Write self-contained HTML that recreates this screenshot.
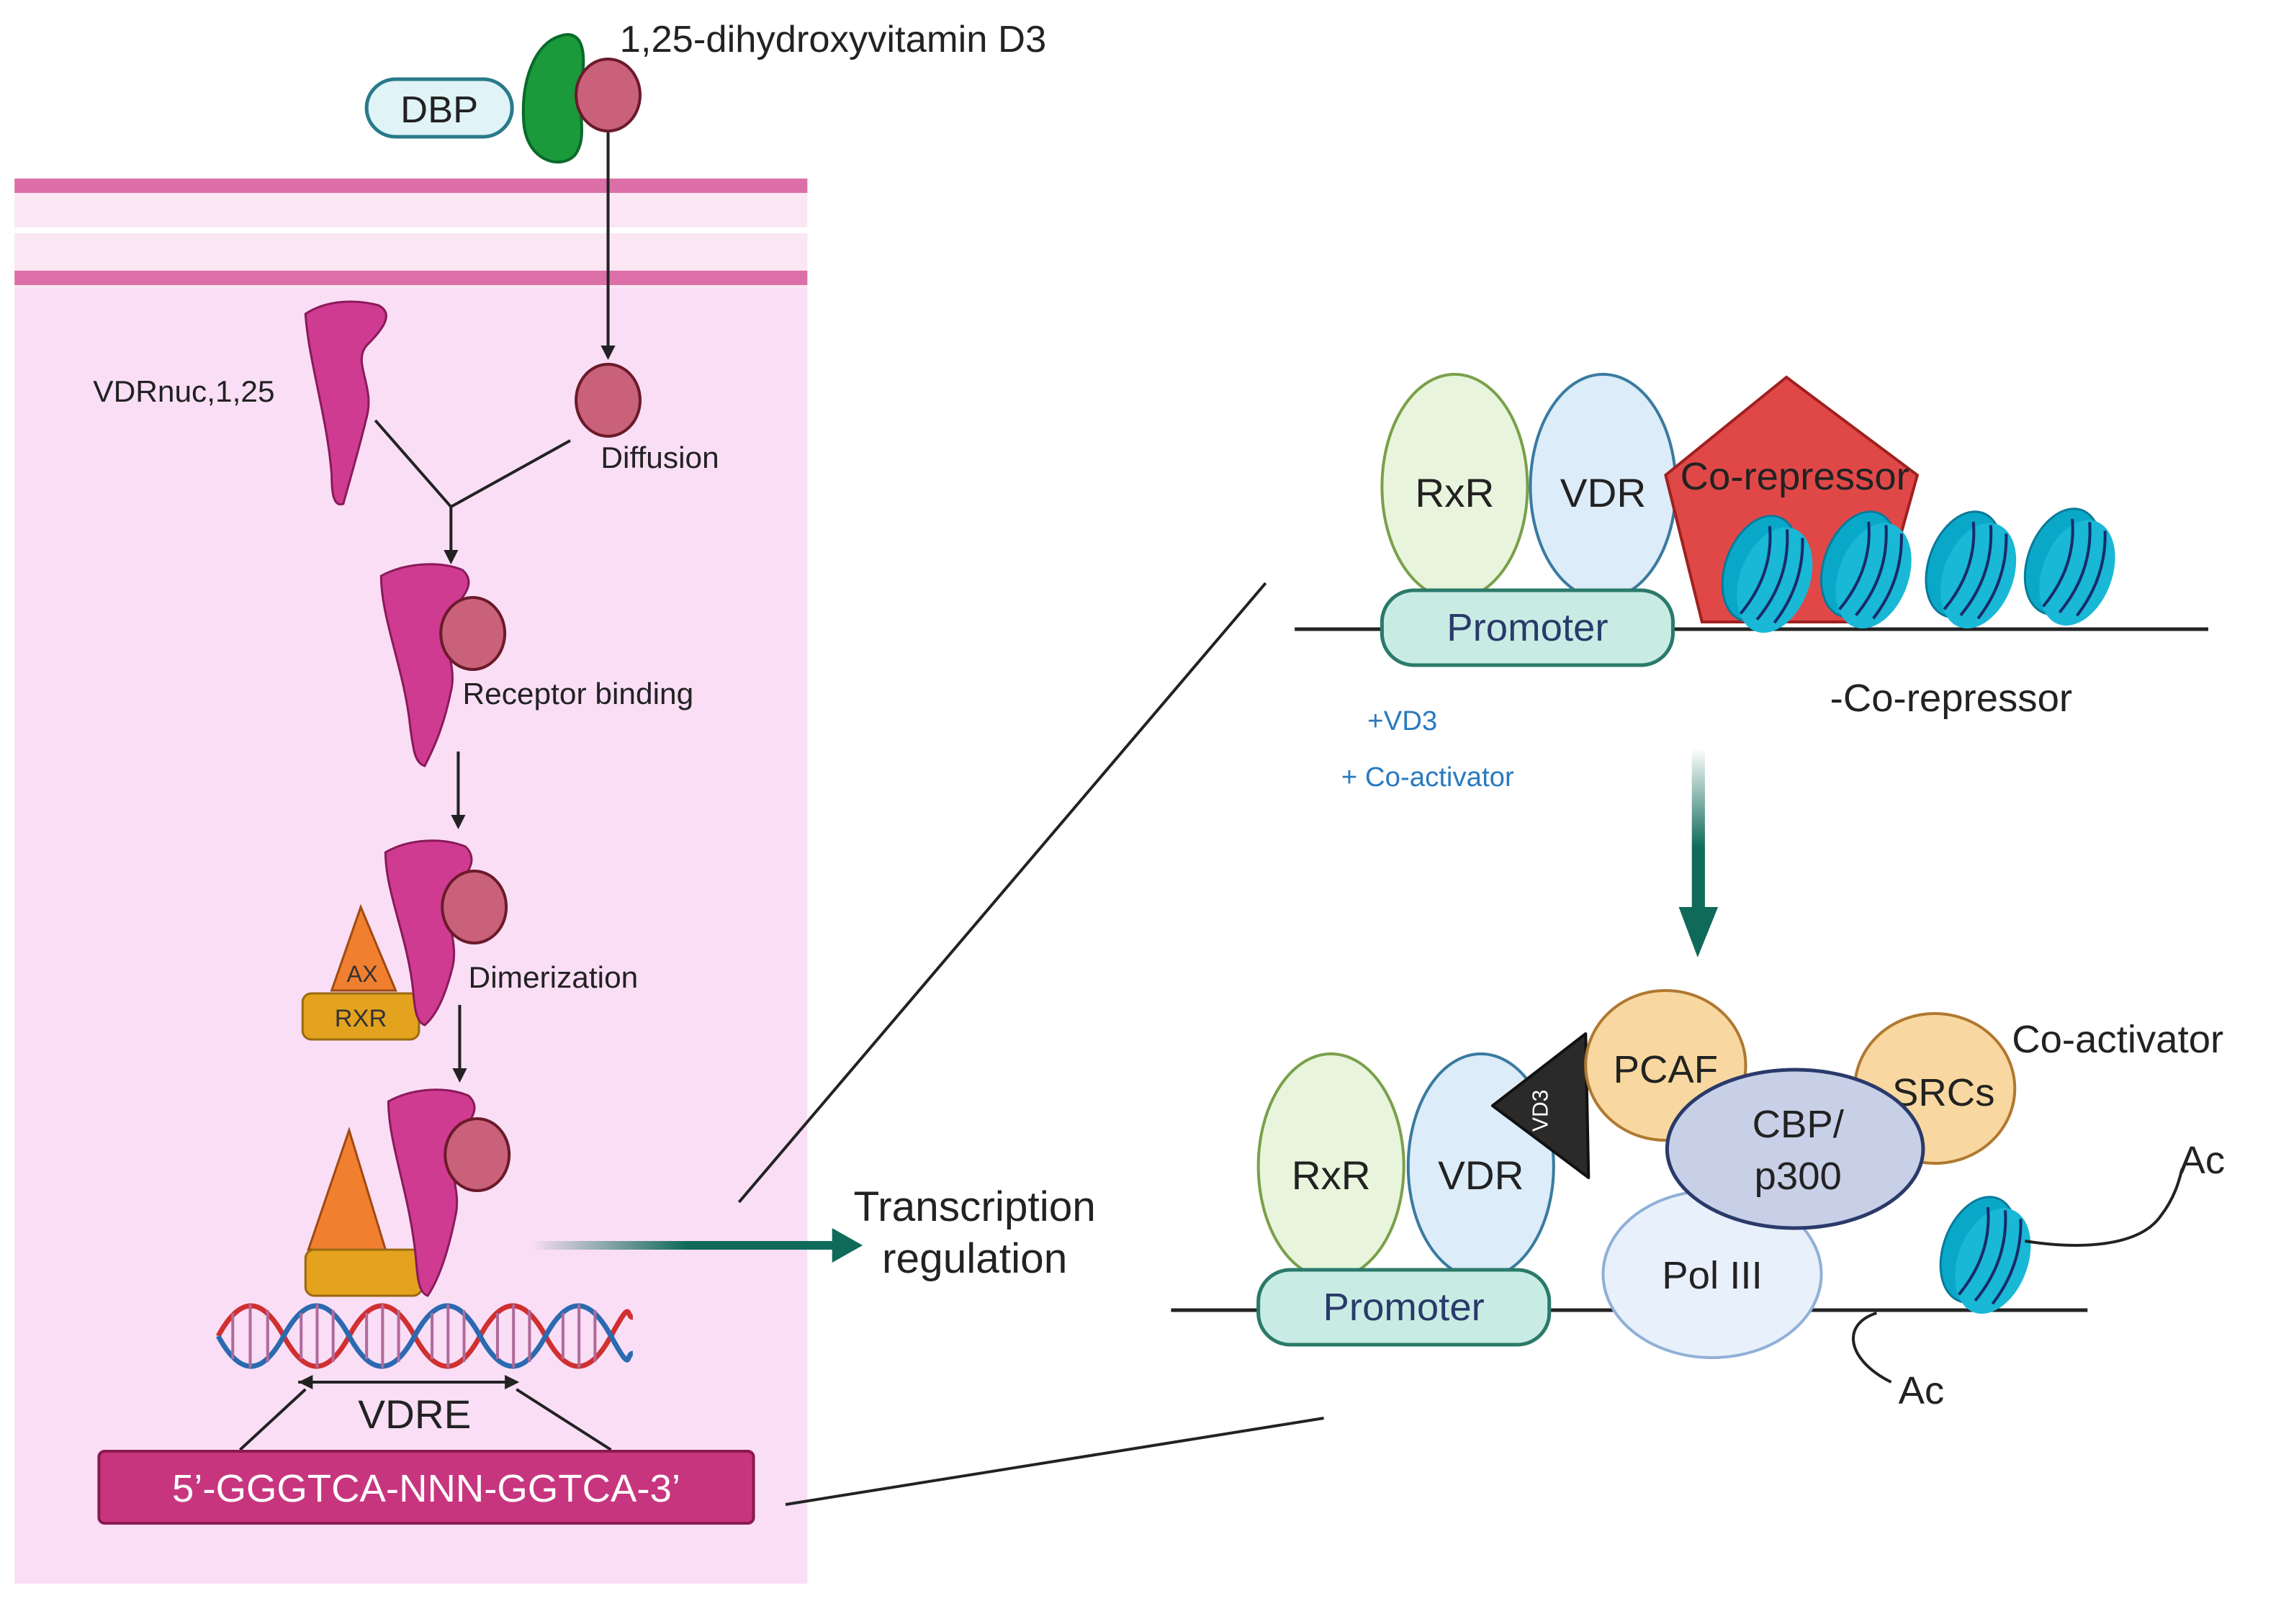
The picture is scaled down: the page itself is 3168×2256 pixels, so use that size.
<!DOCTYPE html>
<html><head><meta charset="utf-8"><style>
html,body{margin:0;padding:0;background:#fff}
svg{display:block}
text{font-family:"Liberation Sans",sans-serif}
</style></head><body>
<svg width="3168" height="2256" viewBox="0 0 1568 1128" preserveAspectRatio="none" xmlns="http://www.w3.org/2000/svg">
<defs>
<marker id="ah" markerWidth="10" markerHeight="10" refX="8" refY="5" orient="auto" markerUnits="userSpaceOnUse"><path d="M0,0 L10,5 L0,10 z" fill="#222"/></marker>
<linearGradient id="gh" x1="0" x2="1" y1="0" y2="0"><stop offset="0" stop-color="#0f6a5a" stop-opacity="0"/><stop offset="0.5" stop-color="#0f6a5a"/><stop offset="1" stop-color="#0f6a5a"/></linearGradient>
<linearGradient id="gv" x1="0" x2="0" y1="0" y2="1"><stop offset="0" stop-color="#0f6a5a" stop-opacity="0"/><stop offset="0.6" stop-color="#0f6a5a"/><stop offset="1" stop-color="#0f6a5a"/></linearGradient>
<g id="nuc"><ellipse cx="0" cy="0" rx="24" ry="38" fill="#0aa8c8" stroke="#0a7a9a" stroke-width="1.5"/><ellipse cx="12" cy="4" rx="24" ry="38" fill="#18b8d6"/><path d="M-4,-30 Q10,0 -2,34 M8,-32 Q22,0 10,34 M20,-30 Q32,0 22,32" stroke="#1a2a6a" stroke-width="2" fill="none"/></g>
</defs>
<rect x="10" y="195" width="545" height="905" fill="#f9def6"/>
<rect x="10" y="124" width="545" height="76" fill="#fbe6f3"/>
<rect x="10" y="124" width="545" height="10" fill="#dd6fa8"/>
<rect x="10" y="188" width="545" height="10" fill="#dd6fa8"/>
<rect x="10" y="158" width="545" height="4" fill="#fff"/>
<rect x="252" y="55" width="100" height="40" rx="20" fill="#e0f3f6" stroke="#2a7a8a" stroke-width="2.5"/>
<text x="302" y="85" font-size="26" text-anchor="middle" fill="#222">DBP</text>
<path d="M385,25 C400,20 403,35 400,55 C396,75 405,95 395,108 C385,118 362,112 360,85 C358,55 368,30 385,25z" fill="#1a9a3a" stroke="#0a6a2a" stroke-width="2"/>
<ellipse cx="418" cy="66" rx="22" ry="25" fill="#c9617a" stroke="#6b1a2a" stroke-width="2"/>
<text x="426" y="36" font-size="26" fill="#222">1,25-dihydroxyvitamin D3</text>
<line x1="418" y1="92" x2="418" y2="248" stroke="#222" stroke-width="2" marker-end="url(#ah)"/>
<ellipse cx="418" cy="278" rx="22" ry="25" fill="#c9617a" stroke="#6b1a2a" stroke-width="2"/>
<text x="413" y="325" font-size="21" fill="#222">Diffusion</text>
<path d="M210,218 C225,208 245,208 260,212 C272,218 262,230 252,240 C242,252 258,268 252,290 C246,315 240,335 236,350 C230,352 228,345 228,330 C225,290 212,250 210,218z" fill="#d03b92" stroke="#8a1a5a" stroke-width="1.5"/>
<text x="64" y="279" font-size="21" fill="#222">VDRnuc,1,25</text>
<polyline points="258,292 310,352 392,306" fill="none" stroke="#222" stroke-width="2"/>
<line x1="310" y1="352" x2="310" y2="390" stroke="#222" stroke-width="2" marker-end="url(#ah)"/>
<path d="M262,400 C280,390 305,390 318,396 C328,405 318,415 310,425 C300,440 315,460 310,480 C305,505 298,520 292,532 C285,530 284,520 282,505 C278,465 262,430 262,400z" fill="#d03b92" stroke="#8a1a5a" stroke-width="1.5"/>
<ellipse cx="325" cy="440" rx="22" ry="25" fill="#c9617a" stroke="#6b1a2a" stroke-width="2"/>
<text x="318" y="489" font-size="21" fill="#222">Receptor binding</text>
<line x1="315" y1="522" x2="315" y2="574" stroke="#222" stroke-width="2" marker-end="url(#ah)"/>
<polygon points="248,630 228,688 272,688" fill="#f07f30" stroke="#a04a10" stroke-width="1.5"/>
<text x="249" y="682" font-size="16" text-anchor="middle" fill="#333">AX</text>
<rect x="208" y="690" width="80" height="32" rx="6" fill="#e4a31e" stroke="#9a6a10" stroke-width="1.5"/>
<text x="248" y="713" font-size="17" text-anchor="middle" fill="#333">RXR</text>
<path d="M265,592 C282,582 305,582 320,588 C330,598 320,608 312,618 C302,632 316,652 311,672 C306,692 300,705 292,712 C286,710 285,700 284,688 C280,650 265,620 265,592z" fill="#d03b92" stroke="#8a1a5a" stroke-width="1.5"/>
<ellipse cx="326" cy="630" rx="22" ry="25" fill="#c9617a" stroke="#6b1a2a" stroke-width="2"/>
<text x="322" y="686" font-size="21" fill="#222">Dimerization</text>
<line x1="316" y1="698" x2="316" y2="750" stroke="#222" stroke-width="2" marker-end="url(#ah)"/>
<polygon points="240,785 212,868 265,868" fill="#f07f30" stroke="#a04a10" stroke-width="1.5"/>
<rect x="210" y="868" width="80" height="32" rx="6" fill="#e4a31e" stroke="#9a6a10" stroke-width="1.5"/>
<path d="M267,765 C285,755 308,755 322,761 C332,770 322,780 314,790 C304,805 318,825 313,845 C308,870 302,888 294,900 C288,898 287,888 286,875 C282,830 267,795 267,765z" fill="#d03b92" stroke="#8a1a5a" stroke-width="1.5"/>
<ellipse cx="328" cy="802" rx="22" ry="25" fill="#c9617a" stroke="#6b1a2a" stroke-width="2"/>
<g stroke-width="3.5" fill="none">
<path d="M150,928 C165,900 180,900 195,928 S225,956 240,928 S270,900 285,928 S315,956 330,928 S360,900 375,928 S405,956 420,928 S430,915 435,915" stroke="#d03030"/>
<path d="M150,928 C165,956 180,956 195,928 S225,900 240,928 S270,956 285,928 S315,900 330,928 S360,956 375,928 S405,900 420,928 S430,940 435,940" stroke="#2a6ab0"/>
</g>
<g stroke="#b06a9a" stroke-width="2">
<line x1="160" y1="912" x2="160" y2="944"/><line x1="172" y1="906" x2="172" y2="950"/><line x1="184" y1="910" x2="184" y2="946"/>
<line x1="207" y1="912" x2="207" y2="944"/><line x1="218" y1="906" x2="218" y2="950"/><line x1="229" y1="910" x2="229" y2="946"/>
<line x1="252" y1="912" x2="252" y2="944"/><line x1="263" y1="906" x2="263" y2="950"/><line x1="274" y1="910" x2="274" y2="946"/>
<line x1="297" y1="912" x2="297" y2="944"/><line x1="308" y1="906" x2="308" y2="950"/><line x1="319" y1="910" x2="319" y2="946"/>
<line x1="342" y1="912" x2="342" y2="944"/><line x1="353" y1="906" x2="353" y2="950"/><line x1="364" y1="910" x2="364" y2="946"/>
<line x1="387" y1="912" x2="387" y2="944"/><line x1="398" y1="906" x2="398" y2="950"/><line x1="409" y1="910" x2="409" y2="946"/>
</g>
<line x1="205" y1="960" x2="355" y2="960" stroke="#222" stroke-width="2" marker-end="url(#ah)"/>
<path d="M205,960 l10,-5 v10z" fill="#222"/>
<text x="285" y="992" font-size="28" text-anchor="middle" fill="#222">VDRE</text>
<line x1="165" y1="1007" x2="210" y2="965" stroke="#222" stroke-width="2"/>
<line x1="420" y1="1007" x2="355" y2="965" stroke="#222" stroke-width="2"/>
<rect x="68" y="1008" width="450" height="50" rx="4" fill="#c8357f" stroke="#8a1a50" stroke-width="2"/>
<text x="293" y="1043" font-size="27" text-anchor="middle" fill="#fff">5’-GGGTCA-NNN-GGTCA-3’</text>
<rect x="365" y="862" width="215" height="6" fill="url(#gh)"/>
<polygon points="572,853 593,865 572,877" fill="#0f6a5a"/>
<text x="670" y="848" font-size="29" text-anchor="middle" fill="#222">Transcription</text>
<text x="670" y="884" font-size="29" text-anchor="middle" fill="#222">regulation</text>
<line x1="508" y1="835" x2="870" y2="405" stroke="#222" stroke-width="2"/>
<line x1="540" y1="1045" x2="910" y2="985" stroke="#222" stroke-width="2"/>
<line x1="890" y1="437" x2="1518" y2="437" stroke="#222" stroke-width="2.5"/>
<ellipse cx="1000" cy="338" rx="50" ry="78" fill="#e8f5dc" stroke="#7aa04a" stroke-width="2"/>
<ellipse cx="1102" cy="338" rx="50" ry="78" fill="#dcecf8" stroke="#3a7aa0" stroke-width="2"/>
<text x="1000" y="352" font-size="28" text-anchor="middle" fill="#222">RxR</text>
<text x="1102" y="352" font-size="28" text-anchor="middle" fill="#222">VDR</text>
<polygon points="1228,262 1318,330 1290,432 1170,432 1145,330" fill="#e04848" stroke="#a02020" stroke-width="2"/>
<rect x="950" y="410" width="200" height="52" rx="22" fill="#c8ece4" stroke="#2a7a6a" stroke-width="2.5"/>
<text x="1050" y="445" font-size="27" text-anchor="middle" fill="#2a3a6a">Promoter</text>
<use href="#nuc" transform="translate(1210,395) rotate(20)"/>
<use href="#nuc" transform="translate(1278,392) rotate(20)"/>
<use href="#nuc" transform="translate(1350,392) rotate(20)"/>
<use href="#nuc" transform="translate(1418,390) rotate(20)"/>
<text x="1155" y="340" font-size="27" fill="#222">Co-repressor</text>
<text x="1258" y="494" font-size="27" fill="#222">-Co-repressor</text>
<text x="940" y="507" font-size="19" fill="#2a7abf">+VD3</text>
<text x="922" y="546" font-size="19" fill="#2a7abf">+ Co-activator</text>
<rect x="1163" y="520" width="9" height="115" fill="url(#gv)"/>
<polygon points="1154,630 1181,630 1167,665" fill="#0f6a5a"/>
<line x1="805" y1="910" x2="1435" y2="910" stroke="#222" stroke-width="2.5"/>
<ellipse cx="1177" cy="885" rx="75" ry="58" fill="#e8f0fb" stroke="#90b0d8" stroke-width="2"/>
<text x="1177" y="895" font-size="27" text-anchor="middle" fill="#222">Pol III</text>
<ellipse cx="915" cy="810" rx="50" ry="78" fill="#e8f5dc" stroke="#7aa04a" stroke-width="2"/>
<ellipse cx="1018" cy="810" rx="50" ry="78" fill="#dcecf8" stroke="#3a7aa0" stroke-width="2"/>
<text x="915" y="826" font-size="28" text-anchor="middle" fill="#222">RxR</text>
<text x="1018" y="826" font-size="28" text-anchor="middle" fill="#222">VDR</text>
<rect x="865" y="882" width="200" height="52" rx="22" fill="#c8ece4" stroke="#2a7a6a" stroke-width="2.5"/>
<text x="965" y="917" font-size="27" text-anchor="middle" fill="#2a3a6a">Promoter</text>
<polygon points="1026,768 1090,718 1092,818" fill="#2a2a2a" stroke="#111" stroke-width="2" stroke-linejoin="round"/>
<text x="0" y="0" font-size="15" fill="#fff" transform="translate(1064,786) rotate(-90)">VD3</text>
<ellipse cx="1145" cy="740" rx="55" ry="52" fill="#f8d8a0" stroke="#b07830" stroke-width="2"/>
<text x="1145" y="752" font-size="27" text-anchor="middle" fill="#222">PCAF</text>
<ellipse cx="1330" cy="756" rx="55" ry="52" fill="#f8d8a0" stroke="#b07830" stroke-width="2"/>
<text x="1336" y="768" font-size="27" text-anchor="middle" fill="#222">SRCs</text>
<ellipse cx="1234" cy="798" rx="88" ry="55" fill="#c8d0e8" stroke="#2a3a6a" stroke-width="2.5"/>
<text x="1236" y="790" font-size="27" text-anchor="middle" fill="#222">CBP/</text>
<text x="1236" y="826" font-size="27" text-anchor="middle" fill="#222">p300</text>
<text x="1383" y="731" font-size="27" fill="#222">Co-activator</text>
<use href="#nuc" transform="translate(1360,868) rotate(20)"/>
<path d="M1392,862 C1430,868 1470,866 1485,845 C1495,832 1498,820 1500,812" fill="none" stroke="#222" stroke-width="2"/>
<text x="1498" y="815" font-size="27" fill="#222">Ac</text>
<path d="M1290,912 C1265,920 1270,945 1300,960" fill="none" stroke="#222" stroke-width="2"/>
<text x="1305" y="975" font-size="27" fill="#222">Ac</text>
</svg>
</body></html>
